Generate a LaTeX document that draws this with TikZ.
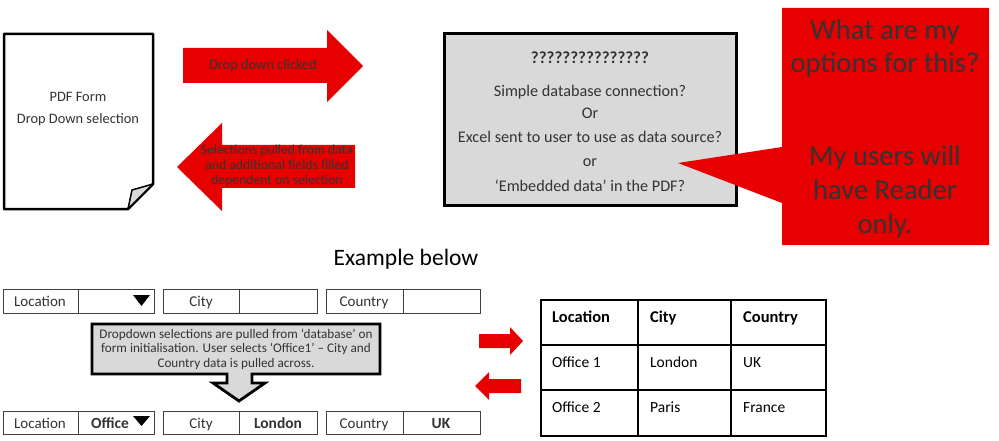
\documentclass[tikz,border=0pt]{standalone}
\usepackage{fontspec}
\setmainfont{Carlito}
\definecolor{vred}{HTML}{E60000}
\definecolor{txt}{HTML}{333333}
\definecolor{lgray}{HTML}{D9D9D9}
\definecolor{fline}{HTML}{404040}
\begin{document}
\begin{tikzpicture}[x=1pt,y=-1pt,
  redshape/.style={fill=vred,draw=none},
  onred/.style={text=txt,align=center,inner sep=0pt},
  plain/.style={text=txt,inner sep=0pt,align=center},
  fieldbox/.style={draw=fline,line width=0.8pt},
  tri/.style={fill=black,draw=none},
  tline/.style={draw=black,line width=1.4pt},
  tcell/.style={anchor=base west,inner sep=0pt,text=black,font=\fontsize{15.5}{17}\selectfont},
  thead/.style={anchor=base west,inner sep=0pt,text=black,font=\fontsize{16.5}{18}\selectfont\bfseries},
  optfont/.style={plain,anchor=base,font=\fontsize{16.2}{18}\selectfont},
  fieldfont/.style={plain,anchor=base,font=\fontsize{15}{17}\selectfont},
  fieldbold/.style={plain,anchor=base,font=\fontsize{15.5}{17}\selectfont\bfseries}
]
\useasboundingbox (0,0) rectangle (999,441);

% ---------- PDF document ----------
\draw[line width=2.5pt,fill=white,line join=round] (4,34) -- (153,34) -- (153,184) -- (128,209) -- (4,209) -- cycle;
\draw[line width=1.5pt,fill=lgray,line join=round] (128,209) -- (132,190) -- (153,184) -- cycle;
\node[plain,font=\fontsize{14.4}{22}\selectfont] (doc) at (78,109) {PDF Form\\Drop Down selection};

% ---------- big red arrows ----------
\path[redshape] (183,48) -- (327,48) -- (327,30) -- (363,66) -- (327,102) -- (327,83) -- (183,83) -- cycle;
\node[onred,font=\fontsize{14.4}{15}\selectfont] (clicked) at (263,66) {Drop down clicked};
\path[redshape] (355,145) -- (222,145) -- (222,123) -- (177,167) -- (222,211) -- (222,188) -- (355,188) -- cycle;
\node[onred,font=\fontsize{13.7}{14.7}\selectfont] (pulled) at (277,166) {Selections pulled from data\\and additional fields filled\\dependent on selection};

% ---------- grey options box ----------
\draw[line width=3pt,fill=lgray] (444,34) rectangle (736,205);
\node[plain,anchor=base,font=\fontsize{17}{19}\selectfont\bfseries] (q) at (590,64) {???????????????};
\node[optfont] (o1) at (590,97) {Simple database connection?};
\node[optfont] (o2) at (590,119) {Or};
\node[optfont] (o3) at (590,143) {Excel sent to user to use as data source?};
\node[optfont] (o4) at (590,167) {or};
\node[optfont] (o5) at (590,192) {`Embedded data' in the PDF?};

% ---------- red callout ----------
\path[redshape] (782,8) -- (989,8) -- (989,245) -- (782,245) -- (782,203) -- (678,163) -- (782,147) -- cycle;
\node[onred,font=\fontsize{28.6}{33}\selectfont] (what) at (885,48) {What are my\\options for this?};
\node[onred,font=\fontsize{28.6}{34}\selectfont] (users) at (885,192) {My users will\\have Reader\\only.};

% ---------- example ----------
\node[text=black,inner sep=0pt,font=\fontsize{23.5}{25}\selectfont] (ex) at (406,259) {Example below};

% row 1
\draw[fieldbox] (3,289) rectangle (154,313) (78,289) -- (78,313);
\draw[fieldbox] (163,289) rectangle (317,313) (239,289) -- (239,313);
\draw[fieldbox] (326,289) rectangle (480,313) (403,289) -- (403,313);
\node[fieldfont] (l1) at (40,306) {Location};
\node[fieldfont] (c1) at (201,306) {City};
\node[fieldfont] (k1) at (364,306) {Country};
\path[tri] (133,295) -- (150,295) -- (141.5,306) -- cycle;

% callout with down arrow
\draw[line width=2.8pt,fill=lgray,line join=miter] (92,324) -- (380,324) -- (380,374) -- (252,374) -- (252,383) -- (265,383) -- (239,401) -- (213,383) -- (227,383) -- (227,374) -- (92,374) -- cycle;
\node[plain,font=\fontsize{13.2}{14.5}\selectfont] (note) at (236,349) {Dropdown selections are pulled from `database' on\\form initialisation. User selects `Office1' -- City and\\Country data is pulled across.};

% row 2
\draw[fieldbox] (3,411) rectangle (154,434) (78,411) -- (78,434);
\draw[fieldbox] (163,411) rectangle (317,434) (239,411) -- (239,434);
\draw[fieldbox] (326,411) rectangle (480,434) (403,411) -- (403,434);
\node[fieldfont] (l2) at (40,428) {Location};
\node[fieldbold] (v2) at (110,428) {Office};
\path[tri] (133,416) -- (150,416) -- (141.5,426) -- cycle;
\node[fieldfont] (c2) at (201,428) {City};
\node[fieldbold] (w2) at (278,428) {London};
\node[fieldfont] (k2) at (364,428) {Country};
\node[fieldbold] (u2) at (441,428) {UK};

% small red arrows
\path[redshape] (479,334) -- (510,334) -- (510,327) -- (523,341) -- (510,355) -- (510,348) -- (479,348) -- cycle;
\path[redshape] (521,379) -- (489,379) -- (489,372) -- (475,386) -- (489,400) -- (489,393) -- (521,393) -- cycle;

% table
\draw[tline] (541,300) rectangle (826,436);
\draw[tline] (638,300) -- (638,436) (731,300) -- (731,436) (541,345) -- (826,345) (541,390) -- (826,390);
\node[thead] (h1) at (552,322) {Location};
\node[thead] (h2) at (650,322) {City};
\node[thead] (h3) at (743,322) {Country};
\node[tcell] (a1) at (552,367) {Office 1};
\node[tcell] (a2) at (650,367) {London};
\node[tcell] (a3) at (743,367) {UK};
\node[tcell] (b1) at (552,412) {Office 2};
\node[tcell] (b2) at (650,412) {Paris};
\node[tcell] (b3) at (743,412) {France};
\end{tikzpicture}
\end{document}
